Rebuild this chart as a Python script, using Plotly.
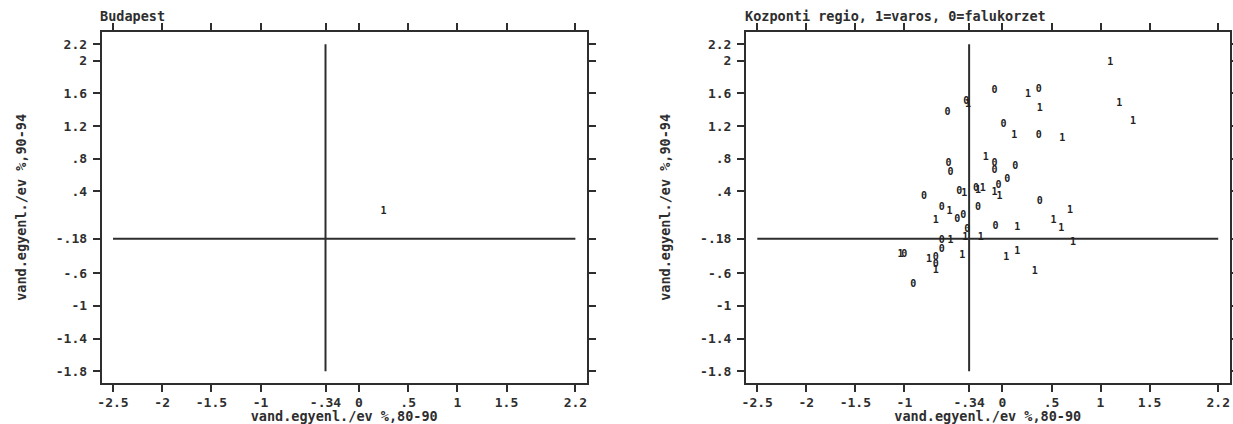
import plotly.graph_objects as go

# ---------------- data ----------------
x_tickvals = [-2.5, -2, -1.5, -1, -0.34, 0, 0.5, 1, 1.5, 2.2]
x_ticktext = ["-2.5", "-2", "-1.5", "-1", "-.34", "0", ".5", "1", "1.5", "2.2"]
y_tickvals = [2.2, 2, 1.6, 1.2, 0.8, 0.4, -0.18, -0.6, -1, -1.4, -1.8]
y_ticktext = ["2.2", "2", "1.6", "1.2", ".8", ".4", "-.18", "-.6", "-1", "-1.4", "-1.8"]

x_mean = -0.34
y_mean = -0.18
x_span = [-2.5, 2.2]
y_span = [-1.8, 2.2]

# Budapest (1 = varos)
bp_x = [0.25]
bp_y = [0.15]
bp_label = ["1"]

# Kozponti regio: cities (label "1")
city_x = [1.10, 0.26, 0.38, 1.19, 1.33, -0.35, 0.12, 0.61, -0.17, -0.08, -0.03,
          -0.25, -0.20, -0.39, -0.54, -0.68, 0.69, 0.52, 0.60, 0.15, -0.38, -0.22,
          -0.53, 0.72, -1.04, -0.75, -0.68, -0.41, 0.04, 0.15, 0.33]
city_y = [1.98, 1.58, 1.41, 1.48, 1.25, 1.46, 1.08, 1.05, 0.82, 0.39, 0.34,
          0.41, 0.43, 0.38, 0.16, 0.04, 0.17, 0.04, -0.05, -0.04, -0.16, -0.16,
          -0.20, -0.23, -0.37, -0.43, -0.57, -0.38, -0.41, -0.33, -0.58]

# Kozponti regio: village districts (label "0")
vill_x = [-0.08, 0.37, -0.56, -0.37, 0.01, 0.37, -0.08, -0.08, 0.13, 0.05, -0.04,
          -0.27, -0.55, -0.53, -0.44, -0.80, -0.62, -0.46, -0.40, -0.25, 0.38,
          -0.07, -0.36, -0.62, -0.62, -1.00, -0.68, -0.68, -0.91]
vill_y = [1.64, 1.65, 1.36, 1.50, 1.22, 1.08, 0.74, 0.65, 0.70, 0.55, 0.47,
          0.44, 0.74, 0.63, 0.40, 0.34, 0.20, 0.06, 0.11, 0.20, 0.28,
          -0.03, -0.07, -0.20, -0.31, -0.37, -0.41, -0.50, -0.74]

left_title = "Budapest"
right_title = "Kozponti regio, 1=varos, 0=falukorzet"
x_title = "vand.egyenl./ev %,80-90"
y_title = "vand.egyenl./ev %,90-94"

# ---------------- style ----------------
W, H = 1233, 424
INK = "#2e2e2e"
FONT = "DejaVu Sans Mono"
tick_font = dict(family=FONT, size=13, color=INK, weight="bold")
title_font = dict(family=FONT, size=13.5, color=INK, weight="bold")
mark_font = dict(family=FONT, size=10, color="#222222", weight="bold")

fig = go.Figure()

def add_panel(xa, ya, px, py, labels_list):
    # reference lines through the means
    fig.add_trace(go.Scatter(x=[x_mean, x_mean], y=y_span, mode="lines",
                             line=dict(color=INK, width=2), xaxis=xa, yaxis=ya,
                             hoverinfo="skip", showlegend=False))
    fig.add_trace(go.Scatter(x=x_span, y=[y_mean, y_mean], mode="lines",
                             line=dict(color=INK, width=2), xaxis=xa, yaxis=ya,
                             hoverinfo="skip", showlegend=False))
    for xs, ys, lab in zip(px, py, labels_list):
        fig.add_trace(go.Scatter(x=xs, y=ys, mode="text", text=lab,
                                 textposition="middle center",
                                 textfont=mark_font, xaxis=xa, yaxis=ya,
                                 showlegend=False))

add_panel("x", "y", [bp_x], [bp_y], [bp_label])
add_panel("x2", "y2", [city_x, vill_x], [city_y, vill_y],
          [["1"] * len(city_x), ["0"] * len(vill_x)])

xr = [-2.615, 2.315]
yr = [-1.94, 2.35]
ydom = [1 - 382.7 / H, 1 - 32.0 / H]

axis_common = dict(showline=True, linecolor=INK, linewidth=2, mirror="ticks",
                   ticks="outside", ticklen=7, tickwidth=2, tickcolor=INK,
                   showgrid=False, zeroline=False, tickfont=tick_font,
                   automargin=False, fixedrange=True)

def xaxis(dom, anchor):
    return dict(axis_common, domain=dom, range=xr, anchor=anchor,
                tickmode="array", tickvals=x_tickvals, ticktext=x_ticktext,
                title=dict(text=x_title, font=title_font, standoff=0))

def yaxis(anchor):
    return dict(axis_common, domain=ydom, range=yr, anchor=anchor,
                tickmode="array", tickvals=y_tickvals, ticktext=y_ticktext,
                ticklabelstandoff=3,
                title=dict(text=y_title, font=title_font, standoff=26))

fig.update_layout(
    width=W, height=H,
    margin=dict(l=0, r=0, t=0, b=0),
    paper_bgcolor="white", plot_bgcolor="white",
    xaxis=xaxis([101.7 / W, 586.7 / W], "y"),
    yaxis=yaxis("x"),
    xaxis2=xaxis([746.0 / W, 1229.5 / W], "y2"),
    yaxis2=yaxis("x2"),
    annotations=[
        dict(text=left_title, x=98 / W, y=1 - 16 / H, xref="paper", yref="paper",
             xanchor="left", yanchor="middle", showarrow=False, font=title_font),
        dict(text=right_title, x=743 / W, y=1 - 16 / H, xref="paper", yref="paper",
             xanchor="left", yanchor="middle", showarrow=False, font=title_font),
    ],
)

fig.write_html("out.html",
               config={"displayModeBar": False},
               post_script="document.body.style.margin='0';document.body.style.overflow='hidden';")
